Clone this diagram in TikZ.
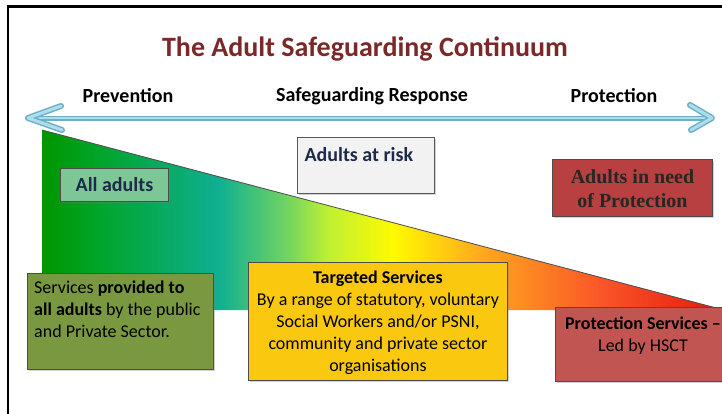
\documentclass[tikz,border=0pt]{standalone}
\usepackage{fontspec}
\setmainfont{Carlito}
\newfontfamily\timesbf{Liberation Serif}[BoldFont={* Bold}]
\usetikzlibrary{shadows}
\definecolor{cgA}{RGB}{0,150,0}
\definecolor{cgB}{RGB}{0,165,40}
\definecolor{cteal}{RGB}{15,175,145}
\definecolor{clg}{RGB}{110,210,100}
\definecolor{cyg}{RGB}{190,240,50}
\definecolor{cyel}{RGB}{255,250,0}
\definecolor{corg}{RGB}{255,165,30}
\definecolor{cro}{RGB}{250,85,40}
\definecolor{cred}{RGB}{225,25,15}
\definecolor{titlered}{RGB}{122,40,40}
\definecolor{navy}{RGB}{30,42,74}
\definecolor{arrowlight}{RGB}{175,222,235}
\definecolor{arrowdark}{RGB}{110,175,200}
\definecolor{allfill}{RGB}{125,198,150}
\definecolor{riskfill}{RGB}{242,242,242}
\definecolor{needfill}{RGB}{185,64,64}
\definecolor{svcfill}{RGB}{122,152,64}
\definecolor{tgtfill}{RGB}{250,200,15}
\definecolor{protfill}{RGB}{192,85,82}
\pgfdeclarehorizontalshading{continuum}{100bp}{color(0bp)=(cgA); color(25bp)=(cgA); color(29bp)=(cgB); color(37.9bp)=(cteal); color(42.8bp)=(clg); color(46bp)=(cyg); color(50.7bp)=(cyel); color(57.5bp)=(corg); color(66bp)=(cro); color(75bp)=(cred); color(100bp)=(cred)}
\tikzset{
  box/.style={draw=#1, line width=0.9pt, inner sep=0pt, anchor=north west,
    drop shadow={opacity=0.35, shadow xshift=2pt, shadow yshift=-2pt}},
  heading/.style={font=\fontsize{20}{22}\selectfont\bfseries},
  boxtext/.style={font=\fontsize{18}{21.8}\selectfont, inner sep=0pt},
  labeltext/.style={font=\fontsize{20}{22}\selectfont\bfseries, text=navy},
}
\begin{document}
\begin{tikzpicture}[x=1pt,y=-1pt]
\useasboundingbox (0,0) rectangle (722,413);
\clip (0,0) rectangle (722,413);
\fill[white] (0,0) rectangle (722,413);
% frame
\draw[line width=2.5pt] (8,420) -- (8,6.5) -- (730,6.5);
% title
\node[font=\fontsize{28}{32}\selectfont\bfseries, text=titlered] (title) at (365,49) {The Adult Safeguarding Continuum};
% headings
\node[heading] (prev) at (128,96) {Prevention};
\node[heading] (resp) at (372,96) {Safeguarding Response};
\node[heading] (prot) at (614,96) {Protection};
% arrow
\coordinate (lt) at (28,118);
\coordinate (rt) at (712,118);
\draw[arrowdark, line width=5pt] (lt) -- (rt);
\draw[arrowlight, line width=2.5pt] ([xshift=2pt]lt) -- ([xshift=-2pt]rt);
\draw[arrowdark, line width=6pt, line cap=round, line join=round] (61,106) -- (lt) -- (62,130);
\draw[arrowlight, line width=3pt, line cap=round, line join=round] (61,106) -- (lt) -- (62,130);
\draw[arrowdark, line width=6pt, line cap=round, line join=round] (690,105) -- (rt) -- (691,130);
\draw[arrowlight, line width=3pt, line cap=round, line join=round] (690,105) -- (rt) -- (691,130);
% triangle
\coordinate (ta) at (42,130);
\coordinate (tb) at (724,310);
\coordinate (tc) at (42,310);
\shade[shading=continuum] (ta) -- (tb) -- (tc) -- cycle;
\draw[black!70, line width=0.8pt] (ta) -- (tb);
% upper boxes
\node[box=black!70, fill=allfill, minimum width=108pt, minimum height=33pt] (all) at (60,168) {};
\node[labeltext] (allt) at (all.center) {All adults};
\node[box=black!65, fill=riskfill, minimum width=137pt, minimum height=56pt] (risk) at (297,137) {};
\node[labeltext, anchor=west] (riskt) at ([xshift=4pt,yshift=-17.5pt]risk.north west) {Adults at risk};
\node[box=black!70, fill=needfill, minimum width=160pt, minimum height=57pt] (need) at (552,159) {};
\node[font=\fontsize{20}{24.5}\selectfont\timesbf\bfseries, text=black!85, align=center] (needt) at ([yshift=-0.5pt]need.center) {Adults in need\\of Protection};
% lower boxes
\node[box=black!70, fill=svcfill, minimum width=186pt, minimum height=96pt] (svc) at (27,273) {};
\node[boxtext, anchor=north west, align=left] (svct) at ([xshift=7pt,yshift=-8pt]svc.north west) {Services \textbf{provided to}\\\textbf{all adults} by the public\\and Private Sector.};
\node[box=black!70, fill=tgtfill, minimum width=259pt, minimum height=118pt] (tgt) at (248,262) {};
\node[boxtext, anchor=north, align=center] (tgtt) at ([yshift=-9pt]tgt.north) {\textbf{Targeted Services}\\By a range of statutory, voluntary\\Social Workers and/or PSNI,\\community and private sector\\organisations};
\node[box=black!70, fill=protfill, minimum width=180pt, minimum height=74pt] (psv) at (555,307) {};
\node[boxtext, anchor=north, align=center] (psvt) at (643,317) {\textbf{Protection Services –}\\Led by HSCT};
\end{tikzpicture}
\end{document}
